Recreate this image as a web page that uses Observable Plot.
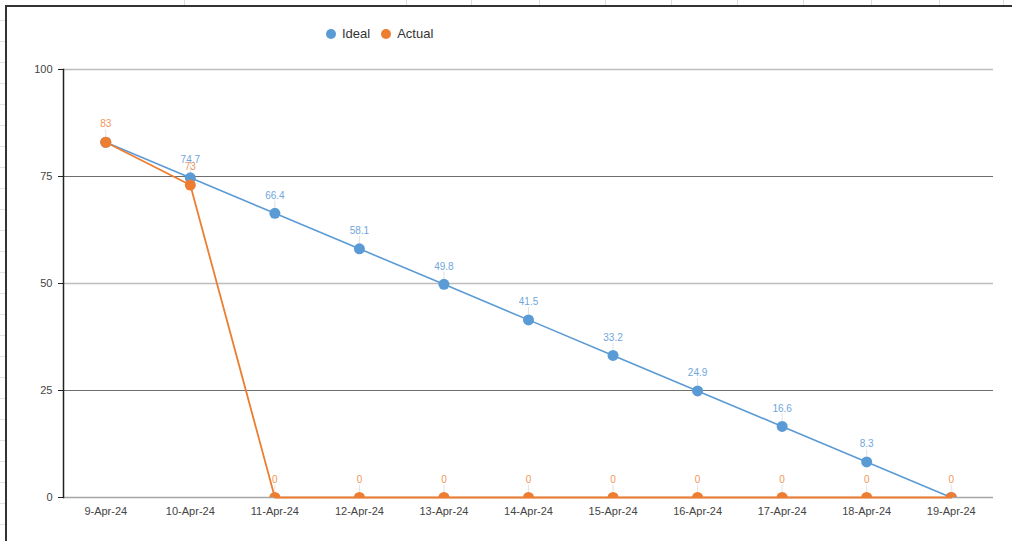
<!DOCTYPE html>
<html>
<head>
<meta charset="utf-8">
<script src="https://cdn.jsdelivr.net/npm/d3@7"></script>
<script src="https://cdn.jsdelivr.net/npm/@observablehq/plot@0.6"></script>
<style>
  html, body { margin: 0; padding: 0; background: #fff; }
  #wrap { position: relative; width: 1012px; height: 541px; overflow: hidden; background: #fff;
          font-family: Arial, "Liberation Sans", sans-serif; }
  #topstrip { position: absolute; left: 0; top: 0; width: 1012px; height: 5px; background: #fff; }
  #leftstrip { position: absolute; left: 0; top: 0; width: 5px; height: 541px;
    background: repeating-linear-gradient(to bottom, #fff 0px, #fff 20px, #e2e2e2 20px, #e2e2e2 21px); }
  .vl { position: absolute; top: 0; width: 1px; height: 5px; background: #dcdcdc; }
  #frame { position: absolute; left: 5px; top: 5px; right: -5px; bottom: -5px;
           border-left: 2px solid #333; border-top: 2px solid #333; background: #fff; }
  #chart { position: absolute; left: 0; top: 0; }
  #legend { position: absolute; top: 26px; left: 326px; font-size: 13px; color: #333;
            display: flex; align-items: center; gap: 0; }
  #legend .item { display: flex; align-items: center; margin-right: 11px; }
  #legend .sw { width: 10px; height: 10px; border-radius: 50%; display: inline-block; margin-right: 6px; }
</style>
</head>
<body>
<div id="wrap">
  <div id="topstrip"></div>
  <div id="leftstrip"></div>
  <div id="frame"></div>
  <div id="chart"></div>
  <div id="legend"></div>
</div>
<script>
const dates = ["9-Apr-24", "10-Apr-24", "11-Apr-24", "12-Apr-24", "13-Apr-24", "14-Apr-24",
               "15-Apr-24", "16-Apr-24", "17-Apr-24", "18-Apr-24", "19-Apr-24"];
const ideal = [83, 74.7, 66.4, 58.1, 49.8, 41.5, 33.2, 24.9, 16.6, 8.3, 0];
const actual = [83, 73, 0, 0, 0, 0, 0, 0, 0, 0, 0];
const yTicks = [0, 25, 50, 75, 100];
const seriesNames = ["Ideal", "Actual"];
const seriesColors = ["#5B9BD5", "#ED7D31"];
const sheetCols = [184, 406, 471, 539, 605, 671, 737, 803, 871, 939, 1003];

// spreadsheet background columns
const topStrip = document.getElementById("topstrip");
sheetCols.forEach(x => { const d = document.createElement("div"); d.className = "vl"; d.style.left = x + "px"; topStrip.appendChild(d); });

const rows = dates.map((d, i) => ({date: d, ideal: ideal[i], actual: actual[i]}));
const blueLabels = rows.filter(r => r.ideal !== r.actual);

const [blue, orange] = seriesColors;

const chart = Plot.plot({
  width: 1012,
  height: 541,
  marginLeft: 63,
  marginRight: 19,
  marginTop: 69,
  marginBottom: 44,
  style: {fontFamily: "Arial, 'Liberation Sans', sans-serif", fontSize: "11px", color: "#444", background: "transparent", overflow: "visible"},
  x: {type: "point", domain: dates, padding: 0.5, round: false, label: null},
  y: {domain: [0, 100], label: null},
  marks: [
    Plot.ruleY(yTicks.filter(d => d > 0 && d % 50 === 0), {stroke: "#bdbdbd", strokeWidth: 1.3}),
    Plot.ruleY(yTicks.filter(d => d > 0 && d % 50 !== 0), {stroke: "#6e6e6e", strokeWidth: 1}),
    Plot.ruleY([0], {stroke: "#a6a6a6", strokeWidth: 1.3}),
    Plot.axisY({ticks: yTicks, tickSize: 5, tickPadding: 6, stroke: "#222", fill: "#444", fontSize: 11}),
    Plot.axisX({tickSize: 0, tickPadding: 10, fill: "#444", fontSize: 11}),
    Plot.frame({anchor: "left", stroke: "#222", strokeWidth: 1.5}),
    // leader lines
    Plot.ruleX(blueLabels, {x: "date", y1: d => d.ideal + 1.2, y2: d => d.ideal + 2.9, stroke: "#e2e2e2"}),
    Plot.ruleX(rows, {x: "date", y1: d => d.actual + 1.2, y2: d => d.actual + 2.9, stroke: "#e2e2e2"}),
    Plot.line(rows, {x: "date", y: "ideal", stroke: blue, strokeWidth: 1.6}),
    Plot.dot(rows, {x: "date", y: "ideal", r: 5.5, fill: blue, clip: true}),
    Plot.line(rows, {x: "date", y: "actual", stroke: orange, strokeWidth: 1.8}),
    Plot.dot(rows, {x: "date", y: "actual", r: 5.5, fill: orange, clip: true}),
    Plot.text(blueLabels, {x: "date", y: "ideal", text: d => String(d.ideal), dy: -18, fill: "#6fa6dc", fontSize: 10}),
    Plot.text(rows, {x: "date", y: "actual", text: d => String(d.actual), dy: -18, fill: "#f0955a", fontSize: 10})
  ]
});
document.getElementById("chart").appendChild(chart);

const legend = document.getElementById("legend");
seriesNames.forEach((name, i) => {
  const item = document.createElement("span");
  item.className = "item";
  item.innerHTML = `<span class="sw" style="background:${seriesColors[i]}"></span>${name}`;
  legend.appendChild(item);
});
</script>
</body>
</html>
